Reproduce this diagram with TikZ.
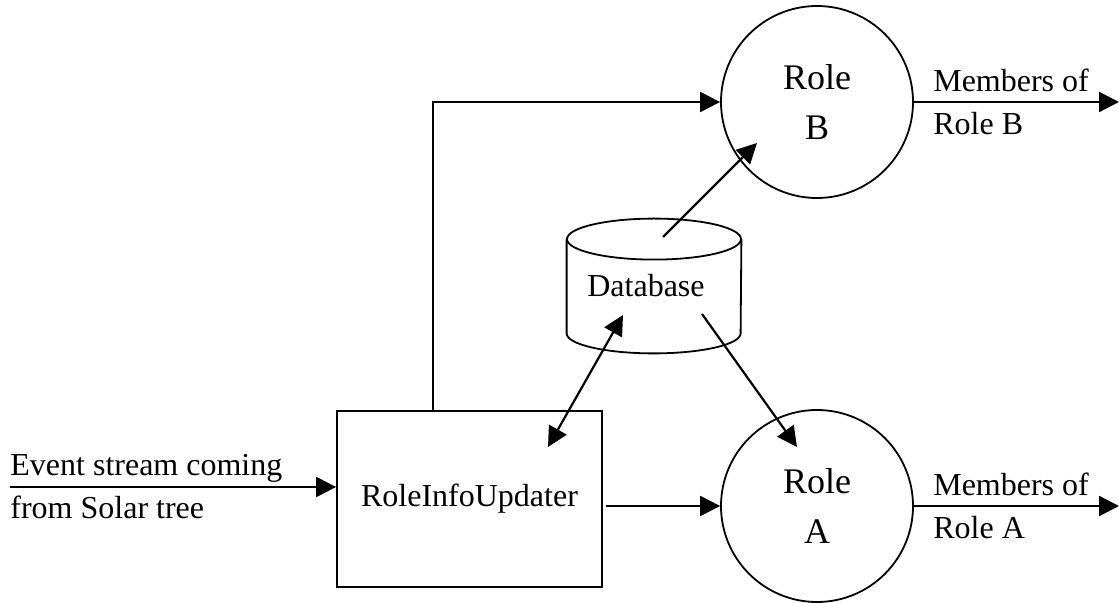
\documentclass[tikz,border=0pt]{standalone}
\usepackage{fontspec}
\setmainfont{Liberation Serif}
\usetikzlibrary{arrows.meta}
\tikzstyle{role} = [circle, draw=black, line width=0.9pt, minimum size=96pt, inner sep=0pt, align=center, font=\fontsize{18}{25}\selectfont]
\tikzstyle{proc} = [rectangle, draw=black, line width=0.9pt, minimum width=132.5pt, minimum height=88pt, font=\fontsize{16}{21.5}\selectfont]
\tikzstyle{store} = [rectangle, minimum width=87pt, minimum height=67pt, inner sep=0pt, font=\fontsize{16}{21.5}\selectfont]
\tikzstyle{lbl} = [inner sep=0pt, align=left, font=\fontsize{16}{21.5}\selectfont]
\tikzstyle{flow} = [-{Triangle[length=10pt,width=10pt]}, line width=1.1pt]
\tikzstyle{flowboth} = [{Triangle[length=10pt,width=10pt]}-{Triangle[length=10pt,width=10pt]}, line width=1.1pt]

\begin{document}
\begin{tikzpicture}[x=0.5pt, y=-0.5pt]
\useasboundingbox (0,0) rectangle (1119,603);

\node (rb) [role] at (817,102) {Role\\B};
\node (ra) [role] at (817,506) {Role\\A};
\node (upd) [proc] at (469.5,499) {RoleInfoUpdater};
\node (db) [store] at (654,286) {Database\hspace*{8pt}};

% database drum
\draw[line width=0.9pt] ([yshift=-10.25pt]db.north) ellipse [x radius=87, y radius=20.5];
\draw[line width=0.9pt] ([yshift=-10.25pt]db.north west) -- ([yshift=10pt]db.south west)
  arc [start angle=180, end angle=0, x radius=87, y radius=20] -- ([yshift=-10.25pt]db.north east);

\coordinate (evt) at (10,487);
\coordinate (out) at (1119,0);

\draw[flow] (evt) -- (evt -| upd.west);
\node (evtlbl) [lbl, anchor=west] at (evt) {Event stream coming\\from Solar tree};

\draw[flow] ([xshift=1.5pt]upd.east |- ra.west) -- (ra.west);
\draw[flow] ([xshift=-18.25pt]upd.north) |- (rb.west);

\draw[flow] ([shift={(9,-49)}]db.center) -- ([shift={(-60,41)}]rb.center);
\draw[flow] ([shift={(48,28)}]db.center) -- ([shift={(-20,-59)}]ra.center);
\draw[flowboth] ([shift={(-31,29)}]db.center) -- ([shift={(78.5,-52)}]upd.center);

\draw[flow] (rb.east) -- (rb.east -| out);
\node (mb) [lbl, anchor=west] at ([xshift=9.5pt]rb.east) {Members of\\Role B};
\draw[flow] (ra.east) -- (ra.east -| out);
\node (ma) [lbl, anchor=west] at ([xshift=9.5pt]ra.east) {Members of\\Role A};
\end{tikzpicture}
\end{document}
